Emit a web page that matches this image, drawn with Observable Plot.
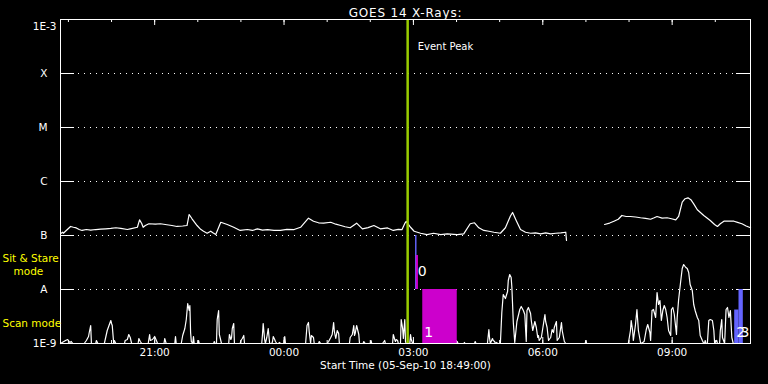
<!DOCTYPE html>
<html><head><meta charset="utf-8">
<script src="https://cdn.jsdelivr.net/npm/d3@7"></script>
<script src="https://cdn.jsdelivr.net/npm/@observablehq/plot@0.6"></script>
<style>
html,body{margin:0;padding:0;background:#000;}
#chart svg{display:block;}
</style></head><body><div id="chart"></div>
<script>
// ---- data ----
const titleText = "GOES 14 X-Rays:";
const xAxisLabel = "Start Time (05-Sep-10 18:49:00)";
const startTime = Date.UTC(2010, 8, 5, 18, 49);
const spanMinutes = 960;

const majorTickTimes = ["2010-09-05T21:00Z","2010-09-06T00:00Z","2010-09-06T03:00Z","2010-09-06T06:00Z","2010-09-06T09:00Z"];
const majorTickLabels = ["21:00","00:00","03:00","06:00","09:00"];

const levelExps = [-4,-5,-6,-7,-8];
const levelNames = ["X","M","C","B","A"];
const edgeExps = [-3,-9];
const edgeNames = ["1E-3","1E-9"];

// GOES long channel flux (minutes since start, W/m^2)
const goesMinutes = [1,3,4,8,14,18,22,26,30,36,42,49,56,63,70,77,84,93,97,107,110,113,115,118,123,132,139,148,155,162,170,176,179,183,190,195,199,204,209,212,216,223,232,241,250,260,267,274,281,288,297,306,315,325,334,345,352,359,366,376,383,390,396,403,412,420,428,436,445,455,463,470,475,479,481,487,492,501,510,519,529,538,552,561,570,576,582,589,596,603,612,619,626,629,634,640,647,654,661,668,675,682,689,696,703,704,730,757,764,770,776,781,787,793,800,807,814,821,826,830,837,844,850,856,860,865,869,873,877,881,886,895,904,910,914,918,923,930,937,942,948,954,960];
const goesFlux = [1.10e-7,1.15e-7,1.10e-7,1.24e-7,1.47e-7,1.42e-7,1.38e-7,1.29e-7,1.24e-7,1.29e-7,1.26e-7,1.29e-7,1.31e-7,1.33e-7,1.35e-7,1.39e-7,1.35e-7,1.29e-7,1.33e-7,1.42e-7,1.95e-7,1.67e-7,1.42e-7,1.53e-7,1.65e-7,1.62e-7,1.65e-7,1.58e-7,1.53e-7,1.47e-7,1.50e-7,1.53e-7,2.45e-7,2.04e-7,1.53e-7,1.30e-7,1.20e-7,1.10e-7,1.20e-7,1.12e-7,1.04e-7,1.76e-7,1.60e-7,1.42e-7,1.24e-7,1.29e-7,1.24e-7,1.33e-7,1.26e-7,1.28e-7,1.24e-7,1.24e-7,1.30e-7,1.29e-7,1.42e-7,2.09e-7,1.84e-7,1.72e-7,1.69e-7,1.76e-7,1.62e-7,1.53e-7,1.45e-7,1.39e-7,1.69e-7,1.33e-7,1.40e-7,1.53e-7,1.33e-7,1.38e-7,1.24e-7,1.30e-7,1.28e-7,1.67e-7,1.82e-7,1.42e-7,1.20e-7,1.10e-7,1.04e-7,1.10e-7,1.04e-7,1.07e-7,1.04e-7,1.07e-7,1.65e-7,1.72e-7,1.39e-7,1.24e-7,1.20e-7,1.15e-7,1.10e-7,1.39e-7,2.30e-7,2.67e-7,1.90e-7,1.29e-7,1.15e-7,1.10e-7,1.12e-7,1.07e-7,1.12e-7,1.07e-7,1.10e-7,1.12e-7,1.15e-7,8.1e-8,NaN,1.60e-7,1.70e-7,1.84e-7,2.00e-7,2.35e-7,2.25e-7,2.25e-7,2.20e-7,2.13e-7,2.08e-7,2.00e-7,2.13e-7,2.25e-7,2.10e-7,2.13e-7,2.04e-7,1.95e-7,2.25e-7,4.14e-7,4.80e-7,4.99e-7,4.60e-7,3.86e-7,2.99e-7,2.35e-7,1.90e-7,1.60e-7,1.47e-7,1.65e-7,1.84e-7,1.84e-7,1.84e-7,1.75e-7,1.65e-7,1.50e-7,1.39e-7];

// scan-mode signal (minutes since start, counts; 54 counts fill one band)
const scanMinutes = [0,7,10,13,15,17,33,36,39,40,42,43,49,50,52,61,65,70,71,72,74,75,77,89,90,93,95,97,99,108,109,111,113,122,124,125,128,131,134,135,144,145,147,159,160,161,168,170,173,175,177,179,180,181,182,184,185,186,191,192,193,213,214,215,217,218,220,221,223,224,234,235,237,238,239,241,242,250,251,253,255,256,280,281,282,284,285,287,289,291,294,295,296,298,299,301,303,305,306,311,312,313,341,343,345,346,348,349,352,353,359,360,362,371,373,376,378,380,381,383,384,385,387,388,402,403,406,408,409,410,412,415,416,421,422,424,431,432,433,448,449,451,452,462,463,465,466,467,469,470,473,474,476,477,479,480,481,486,487,488,490,551,552,553,561,562,563,576,577,578,594,596,597,598,601,602,604,605,607,608,612,614,616,619,622,623,625,627,628,630,632,633,635,639,641,644,646,648,649,651,654,655,657,660,662,664,665,666,669,674,675,677,679,682,684,686,687,690,691,694,697,698,701,703,730,731,732,790,793,794,796,797,800,802,804,807,808,812,815,817,820,821,823,825,828,830,832,834,836,838,840,842,844,846,849,850,852,854,857,858,860,863,865,867,870,872,874,876,879,881,883,886,888,890,893,895,896,897,898,900,902,904,907,909,910,913,914,917,918,920,921,924,926,928,930,932,934,936];
const scanCounts = [0,3,4,1,2,0,0,3,7,11,18,0,0,3,0,0,13,23,20,18,0,3,0,0,3,4,9,6,0,0,5,2,0,0,9,3,4,7,2,0,0,5,0,0,7,0,0,8,15,24,40,33,38,11,2,0,7,0,0,3,0,0,2,0,0,24,33,9,3,0,0,9,4,6,15,20,0,0,3,5,8,0,0,9,20,4,0,6,15,0,0,2,7,4,2,0,0,1,0,0,7,0,0,18,21,12,0,8,6,0,0,2,0,0,2,6,9,21,12,5,9,13,10,0,0,6,9,18,8,10,18,9,0,0,2,0,0,3,0,0,1,3,0,0,9,4,2,4,3,0,0,24,15,5,24,2,0,0,9,4,0,0,2,0,0,1,0,0,2,0,0,14,5,0,5,3,2,0,1,0,0,31,49,45,52,63,69,66,56,21,1,8,22,34,37,33,29,2,33,36,30,23,13,22,16,6,8,3,6,29,22,16,3,6,14,11,16,22,3,6,21,13,2,0,0,3,0,0,13,23,13,3,19,34,13,1,0,2,14,19,11,3,33,34,26,51,39,43,23,33,38,34,26,13,8,34,36,29,9,26,44,63,75,79,76,75,71,59,53,39,33,26,23,8,3,0,0,3,0,0,23,24,23,13,1,3,0,0,13,24,6,0,34,36,26,33,6,0];
const scanFull = 54;

// observation-mode bars (band 0 = Sit & Stare, band 1 = Scan)
const barLabels = ["", "0", "1", "2", "3"];
const barBand = [0, 0, 1, 1, 1];
const barStart = [494, 495, 504, 938, 944];
const barEnd = [496, 498, 552, 944, 950];
const barFill = [1, 0.63, 1, 0.62, 1];
const barKind = ["b", "a", "a", "b", "b"];

const bandNames = ["Sit & Stare", "Scan mode"];
const bandBottom = [-8, -9];

const eventPeakMinute = 483;
const eventLabel = "Event Peak";

// ---- build ----
const toDate = m => new Date(startTime + m * 60000);
const goes = goesMinutes.map((m, i) => ({t: toDate(m), f: goesFlux[i]}));
const scan = scanMinutes.map((m, i) => ({t: toDate(m), c: scanCounts[i]}));
const bars = barLabels.map((l, i) => ({label: l, band: barBand[i], x1: toDate(barStart[i]), x2: toDate(barEnd[i]), fill: barFill[i], kind: barKind[i]}));
const majors = majorTickTimes.map((s, i) => ({t: new Date(s), label: majorTickLabels[i]}));
const hours = d3.utcHour.range(toDate(0), toDate(spanMinutes));
const levels = levelExps.map((e, i) => ({e, name: levelNames[i]}));
const edges = edgeExps.map((e, i) => ({e, name: edgeNames[i]}));
const eventDate = toDate(eventPeakMinute);

const W = "white";
const chart = Plot.plot({
  width: 768, height: 384,
  marginLeft: 60, marginRight: 18, marginTop: 19, marginBottom: 41,
  style: {background: "black", color: "white", fontFamily: "DejaVu Sans", fontSize: "10.5px"},
  x: {type: "utc", domain: [toDate(0), toDate(spanMinutes)], axis: null},
  y: {type: "linear", domain: [-9, -3], axis: null},
  color: {domain: ["a", "b"], range: ["#cc00cc", "#6464ff"]},
  marks: [
    Plot.ruleY(levels, {y: "e", stroke: W, strokeDasharray: "1 5", insetLeft: 18, insetRight: 16}),
    Plot.tickY(levels, {y: "e", stroke: W, insetRight: 676}),
    Plot.tickY(levels, {y: "e", stroke: W, insetLeft: 676}),
    Plot.tickX(hours, {x: d => d, stroke: W, insetBottom: 321}),
    Plot.tickX(hours, {x: d => d, stroke: W, insetTop: 321}),
    Plot.tickX(majors, {x: "t", stroke: W, insetBottom: 318}),
    Plot.tickX(majors, {x: "t", stroke: W, insetTop: 318}),
    Plot.line(goes, {x: "t", y: d => Math.log10(d.f), stroke: W, strokeWidth: 1.2}),
    Plot.line(scan, {x: "t", y: d => bandBottom[1] + d.c / scanFull, stroke: W, strokeWidth: 1.2}),
    Plot.rect(bars, {x1: "x1", x2: "x2", y1: d => bandBottom[d.band], y2: d => bandBottom[d.band] + d.fill, fill: "kind"}),
    Plot.ruleX([eventDate], {x: d => d, stroke: "#99cc00", strokeWidth: 2.5}),
    Plot.frame({stroke: W}),
    Plot.text([titleText], {text: d => d, frameAnchor: "top", dy: -11, fill: W, fontSize: 12}),
    Plot.text([eventLabel], {x: () => eventDate, text: d => d, frameAnchor: "top", dy: 23, dx: 10, textAnchor: "start", fill: W, fontSize: 10}),
    Plot.text(majors, {x: "t", text: "label", frameAnchor: "bottom", dy: 12.5, fill: W}),
    Plot.text([xAxisLabel], {text: d => d, frameAnchor: "bottom", dy: 25.5, fill: W}),
    Plot.text(levels, {y: "e", text: "name", frameAnchor: "left", dx: -13, textAnchor: "end", fill: W}),
    Plot.text(edges, {y: "e", text: "name", frameAnchor: "left", dx: -4, textAnchor: "end", fill: W}),
    Plot.text(bars.filter(d => d.label), {x: "x1", y: d => bandBottom[d.band] + (d.band === 0 ? 0.33 : 0.2), text: "label", dx: 1.5, textAnchor: "start", fill: W, fontSize: 14}),
    Plot.text([bandNames[0]], {y: () => bandBottom[0] + 0.5, text: d => d, frameAnchor: "left", dx: -58, dy: -4, textAnchor: "start", fill: "#ffff00"}),
    Plot.text(["mode"], {y: () => bandBottom[0] + 0.5, text: d => d, frameAnchor: "left", dx: -47, dy: 9, textAnchor: "start", fill: "#ffff00"}),
    Plot.text([bandNames[1]], {y: () => bandBottom[1] + 0.5, text: d => d, frameAnchor: "left", dx: -58, dy: 7.5, textAnchor: "start", fill: "#ffff00"})
  ]
});
// nudge the edge labels inward like the original, widen the title
const sel = d3.select(chart).selectAll("text");
sel.filter(function(){ return this.textContent === "1E-3"; }).attr("dy", "0.72em");
sel.filter(function(){ return this.textContent === "1E-9"; }).attr("dy", "0.05em");
sel.filter(function(){ return this.textContent === titleText; }).style("letter-spacing", "0.8px");
document.getElementById("chart").appendChild(chart);
</script></body></html>
